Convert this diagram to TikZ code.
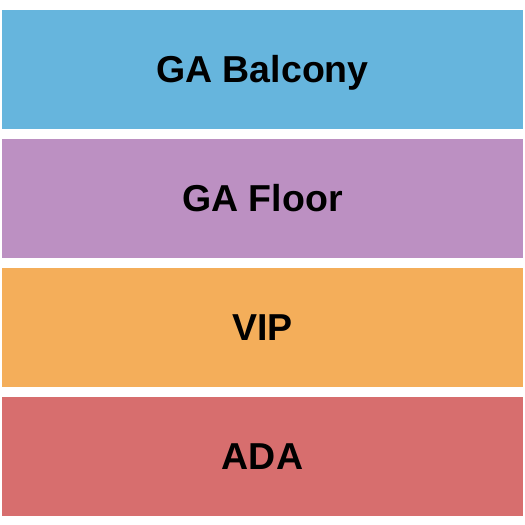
\documentclass[tikz,border=0pt]{standalone}
\usepackage{fontspec}
\setmainfont{Liberation Sans}
\definecolor{balcony}{RGB}{102,181,221}
\definecolor{floor}{RGB}{188,144,194}
\definecolor{vip}{RGB}{244,174,90}
\definecolor{ada}{RGB}{215,110,110}
\begin{document}
\begin{tikzpicture}[x=1pt,y=-1pt,
  section/.style={rectangle,inner sep=0pt,minimum width=521pt,minimum height=118.5pt,
    text height=27pt,text depth=0pt,
    font=\fontsize{37.5}{37.5}\selectfont\bfseries}]
  \useasboundingbox (0,0) rectangle (525,525);

  \node (bal) at (262.5,69.25) [section,fill=balcony]{GA Balcony};
  \node (flo) at (262.5,198.25) [section,fill=floor]{GA Floor};
  \node (vip) at (262.5,327.25) [section,fill=vip]{VIP};
  \node (ada) at (262.5,456.25) [section,fill=ada]{ADA};

\end{tikzpicture}
\end{document}
